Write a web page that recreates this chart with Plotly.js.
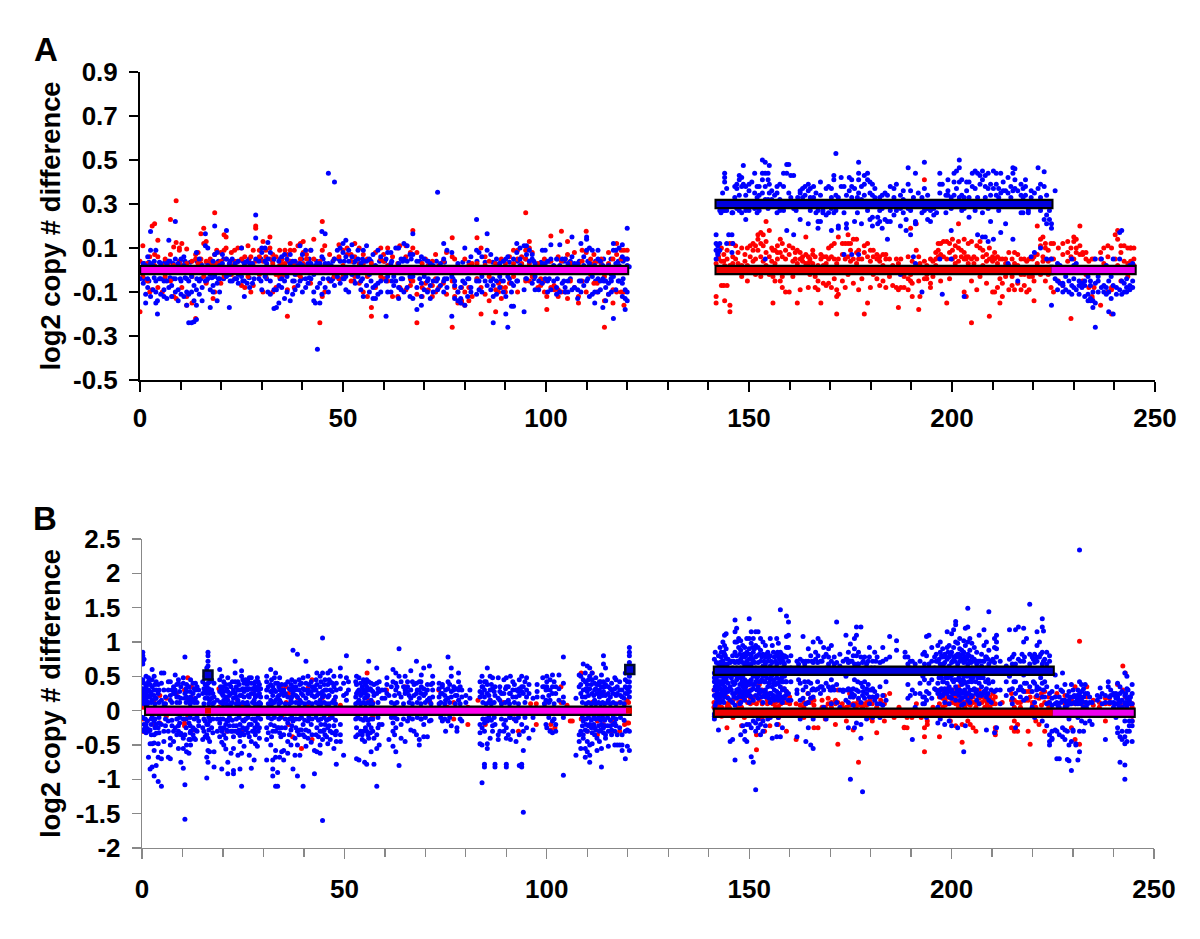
<!DOCTYPE html>
<html><head><meta charset="utf-8">
<script src="https://cdn.plot.ly/plotly-3.0.1.min.js"></script>
<style>html,body{margin:0;padding:0;background:#fff}</style></head>
<body><div id="chart" style="width:1200px;height:939px"></div>
<script>
// Rows are [x, y, y, ...]: points, grouped by x position.
const aBlueLeft=[[0,-.04],[.8,.03,-.06],[1.4,.02,-.15,-.11],[1.9,.06,-.04,-.08],[2.6,.175,.09,.03,-.12],[3.2,.02,-.09],[3.9,.09,-.05,-.1,-.15],[4.3,.01,-.2,-.14],[5.1,.03,-.04,-.11],[5.9,-.09,-.12,-.05],[6.6,.03,-.05,-.13],[7.1,.135,.04,-.08],[7.8,-.07,-.12],[8.7,.22,.05,-.1,-.04],[9.4,-.14,.03,-.09],[10.1,.05,-.05,-.11],[10.8,.06,.02,-.12],[11.5,-.04,-.1,-.16],[12,-.24,-.05,-.11],[12.7,-.24,-.03,-.1],[13.3,-.235,-.14,-.07],[13.9,-.225,-.16,.08,-.09],[14.6,.05,-.05,-.11],[15.3,.02,-.08,-.14],[16.1,.165,.11,-.05],[16.7,.1,.02,-.04],[17.3,-.17,-.09,-.02],[18,-.07,.04,-.1],[18.4,.2,.07,-.03],[19,.08,-.06,-.14],[19.6,.02,-.1,-.04],[20.3,.07,.03],[21.3,.18,.05,-.03],[22,.03,-.02,-.17],[22.7,-.05,.05],[23.4,-.04,.03],[24.2,.04,-.02,-.06],[25,.1,-.03],[25.7,.03,-.12,-.05],[26.4,.04,-.06],[27,-.08,.03],[27.7,.03,-.06],[28.5,.25,.145,.05],[29.3,.04,-.04],[30,.08,.1,-.09],[30.8,.1,.04,-.03],[31.5,.125,.05,-.1],[32.1,.08,-.11,-.05],[33,.05,-.175,-.09],[33.6,-.17,-.09,.01],[34.2,-.15,.04,-.07],[34.9,.06,-.08,-.04],[35.6,.07,-.13,-.05],[36.2,-.03,.05,-.1],[37,.07,.03,-.14],[37.6,.04,-.05,-.11],[38.2,.04,-.09,-.02],[38.9,.02,-.07],[39.4,.11,.03,-.05],[40,.07,.02,-.1],[40.8,.09,-.04,-.08],[41.4,.03,-.06],[42.1,.09,.03,-.04],[42.8,-.14,-.02,-.1],[43.2,.02,-.15],[43.7,-.36,-.08,.03],[44.3,-.15,.03,-.06],[44.8,.175,.06,-.11],[45.6,.165,.03,-.08],[46.4,.44,.03,-.1,-.04],[47.1,.02,-.05],[47.9,.4,.05,-.07],[48.6,.09,-.03],[49.3,.04,-.06,.1],[50,.08,-.04,.12],[50.7,.135,.06,-.09,-.03],[51.4,.09,-.1,.04],[52.2,.115,.06,-.02],[53,.04,-.06,.01],[53.7,.05,-.03,.09],[54.4,.03,-.09,-.05],[55,.04,-.12,.09],[55.8,.11,.04,-.07],[56.5,.05,-.1,-.02],[57.4,.07,-.08,-.13],[58,.02,-.13,-.07],[58.6,-.06,-.11,.09],[59.3,.06,-.05,-.1],[60.6,-.21,-.05,.05],[61,.08,-.1,-.03],[61.8,.08,.03,-.1],[62.5,-.07,-.03],[63,.1,-.05],[63.7,.1,.03,-.08,-.13],[64.3,.05,-.04,-.09],[65,.12,.05,-.1],[65.8,.11,.04,-.08],[66.5,.07,-.12,-.03],[67.2,.165,.07,-.03,-.13],[68.2,-.18,.04,-.08],[69.3,-.16,.06,-.06,-.12],[70,.05,-.09,-.03],[70.8,.04,-.1,-.05],[71.5,.03,-.07,-.13],[72.2,-.05,-.1,.02],[73.3,.353,-.04,-.09],[74,.03,-.07],[74.8,.12,.05,-.05,-.1],[75.6,.09,-.04,-.08],[76.8,-.21,.08,-.03],[77.5,-.07,-.13,-.05],[78.3,.03,-.1,-.14],[79,-.08,-.13,-.15],[80,.1,-.06,-.16],[80.7,-.04,-.12],[81.5,.06,-.08,-.1],[82.9,.23,.09,-.05,-.11],[83.5,.08,-.05,-.09],[84.2,.06,-.03,-.1],[85.5,.165,.09,-.07],[86.4,.07,-.09,-.05],[87,-.24,-.07,-.12],[87.8,.05,-.11,-.05],[88.6,.03,-.08,-.03],[89.5,-.1,-.05,.04],[90.1,-.2,-.12,.05],[90.6,-.26,-.03,.06],[91.5,-.165,-.06,-.1],[92,-.165,.05,-.07],[92.8,.12,.08,-.05],[93.6,.1,.05,.02],[94.6,-.19,.11,-.09],[95.2,.11,.07,-.04],[95.9,.09,.04],[96.6,.05,.07,-.06],[97.3,.03,-.03,-.09],[98.2,-.05,-.09],[99.1,.09,.03,-.06],[99.8,.09,.03,-.04],[100.4,-.1,-.05,.04],[101.2,.115,.05,-.09],[101.9,-.05,.02],[102.6,.05,-.08,-.11],[103.4,.115,.02,-.1],[104,.05,-.06],[104.7,.05,-.08,-.1],[105.4,.03,-.1,-.05],[106.4,.15,.06,-.09],[107,-.08,.03],[107.8,-.09,-.13,.03],[108.6,.12,-.1,-.05],[109.3,.06,.02,-.07],[110,.15,.14,.09,-.05],[110.7,.1,.03,-.12],[111.4,.09,-.11,-.03],[112,-.15,.02,-.1],[112.8,.09,.05,-.04,-.1],[113.4,.04,-.05,-.09],[114,-.17,.02,-.04],[114.7,-.05,-.14,-.08],[115.4,.02,-.06,-.11],[116.1,-.05,-.1,-.02],[116.6,-.22,.12,.09,-.03],[117.2,.09,-.09,.03],[118,-.05,.1,.02],[118.8,.115,.06,-.06,-.12],[119.5,-.18,.05,-.09,-.13],[120,.19,.05,.02,-.14,-.1],[120.5,.015]];
const aBlueLeftCore=[[1,.03,-.04],[2.2,.035,-.05],[3.5,.04,-.035],[4.8,-.04,.035],[6.1,.035,-.04],[7.4,-.035,.04],[8.2,-.04,.03],[9.9,.04,-.04],[11.1,-.035,.04],[12.4,.035],[14,.04,-.04],[15,-.04],[16.4,.035,-.05],[17.7,.04,-.035],[19.3,.04,-.04],[20.6,-.04,.05],[22.2,-.05,.04],[23.8,.035,-.04],[25.3,.04,-.05],[26.9,.05,-.035],[28.1,-.04],[29.8,.05,-.05],[31.2,-.04,.03],[32.7,.04],[34.5,-.04,.05],[36.5,.04],[38,-.05,.035],[39.8,-.04,.05],[41.7,-.035,.05],[43.5,.04],[45.1,-.04,.05],[47.5,.04,-.04],[49,-.04,.05],[50.3,.04,-.04],[52.7,-.05,.035],[54.8,-.04,.05],[56.9,-.05,.04],[59,.04],[60.3,.04,-.04],[62,.04,-.05],[64.7,.04,-.04],[66.8,.05,-.05],[68.9,.04,-.04],[71,-.04,.04],[73,.04,-.05],[75,-.04,.035],[77.1,-.04],[79.5,-.05,.035],[81,-.04,.035],[83,-.04,.04],[85,-.05,.035],[86.9,-.04,.035],[88.9,.04,-.05],[91,-.04,.035],[93,.04,-.05],[95,-.04,.05],[97,.04,-.04],[98.8,-.05,.035],[100.8,-.04,.04],[102.8,.05,-.04],[104.4,.04,-.05],[106,-.04,.04],[108.2,.04,-.05],[110.3,-.04,.04],[112.2,-.05,.04],[114.2,-.05,.05],[116,-.04,.05],[117.8,.04,-.05],[119,.04,-.04]];
const aRedLeft=[[0,-.19,.04],[.7,.11,-.03],[1.8,-.05,.03],[2.4,-.1,.06],[3,.2,-.09],[3.6,.21,.07,.02],[4.4,.135,.06,-.08],[5.5,.02,-.1],[6.2,-.03,.05],[7,.04,.03],[7.5,.23,.07,-.05],[8.3,.105,.02,-.12],[8.9,.315,.125,-.13],[9.7,.1,.09,.04],[10.3,.12,-.08,.02],[11.5,.095,-.12,-.16,.03],[12.8,.04,-.15,-.03],[13.7,.05,.07,-.22],[14.3,.03,.08],[15,.165,.05,.03],[15.7,.19,.12,-.03],[16.3,.13,-.06,.04],[17.3,.05,.03,-.02],[18,.035,-.13,.03],[18.4,.26,.07,-.1],[18.9,.09,.03],[19.9,.04,-.06,.08],[20.7,.16,.09,-.03],[21.2,.15,.1,.05],[22.5,.08,.02,-.02],[23.3,.09,-.04,.04],[24.1,.1,.04],[25,.1,-.07,.05],[25.8,.06,-.08,.03],[26.6,.11,.04,-.03],[27.3,.06,.03,-.1],[27.9,.09,.02,-.07],[28.5,.2,.19,.04],[29.4,.09,.06,-.02],[30.3,.13,.04,-.1],[31,.09,.06,-.03],[32,.15,.1,.05],[32.7,.07,-.1,.03],[33.5,.06,-.08,-.02],[34.4,.09,.02,-.03],[35,.05,-.03,.03],[35.7,.09,.03,-.02],[36.3,-.21,.07,-.09],[37,.12,.09,.04],[38,.09,.03,-.08],[38.9,.11,.03,-.02],[39.5,.12,-.03,.05],[40.2,.13,.08,.03],[41,.05,.07,.02],[42,.03,-.06,.09],[42.8,.14,.05],[44.3,-.24,.04],[44.9,.22,.09,-.12],[45.5,.11,.02,-.1],[46.7,.07,-.05],[47.8,.05,-.03],[49,.115,.06,-.04],[50,.09,.02,-.03],[51,.1,.07],[52,.04,-.05,.07],[52.9,.12,.06,-.03],[54,.1,.03,-.06],[55,.07,-.1,.03],[56,.05,-.12,-.03],[57,-.21,-.17,.03],[58,-.08,.08],[59.3,.1,-.03,.05],[60,.04,-.04,.07],[61,.02,.1,-.05],[62.2,-.12,.06],[63.5,.1,-.12,.03],[64,.11,-.08],[65.5,.11,.06,-.09],[66.6,-.07,.08,-.04],[67.2,.18,.1,-.05],[68.2,-.24,-.11,.08],[69.5,.03,-.08,-.12],[70.3,-.06,.05],[71,.02,-.09],[72,.04,-.12,-.07],[72.8,.07,-.1,-.04],[73.6,.02,-.08],[74.7,-.06,.04],[75.5,-.11,.08],[76.9,.147,.06,-.26,-.05],[77.5,.05,-.12,-.08],[78.3,-.1,-.15,.02],[79.2,-.14,-.15,-.08],[80,.05,-.16,-.1],[81,-.08,-.14,.02],[81.8,-.12,.03],[83,.147,.03,-.04],[84,.1,-.2,-.08],[85,.06,-.11,.02],[86,.04,-.14,-.03],[87.6,-.19,-.09,.03],[88.3,.02,-.1,-.06],[89,.05,-.13,-.08],[90,-.08,-.1,.03],[91,.06,-.06],[92,.09,.03,-.03],[93,.09,.05,-.1],[94,.06,.03],[95,.26,.09,.05,-.05],[95.9,.1,.13,.03,-.05],[96.6,.08,-.03],[98,-.08,.03],[98.7,-.04,-.07],[99.6,.05,-.1,-.05],[100.2,-.18,-.12],[101.2,.155,.04,-.08],[102,-.09,-.07],[103,.06,-.12,-.09],[103.8,.176,.04,-.1],[104.8,.05,-.1],[105.3,.13,.07,-.13],[106,.03,-.05],[107,.08,-.08],[108,.03,-.15,-.12],[108.9,.09,.04,-.05],[109.9,.176,.08,-.1],[111,.05,.03,-.02],[111.8,.07,.03,-.06],[112.6,.04,-.06,-.1],[113.6,.03,.05],[114.4,-.26,-.14,-.03],[115.4,.08,.03,-.11],[116.5,.05,-.09,-.15],[117.4,.12,.07,-.1],[118.5,.09,.05,-.1],[119.2,-.16,.09,-.1],[120,.09,.05]];
const aBlueRight=[[141.9,.16,.12,.09,.05],[142.3,.11,.08,.07],[142.8,.12,.09,.27],[143.1,.26,.3],[143.5,.35,.27],[144,.44,.42,.4,.27],[144.5,.12,.37,.27],[145,.16,.29],[145.8,.16,.08,.26],[146,.12,.31,.26],[146.5,.38,.33],[147,.37,.39,.28],[147.6,.41,.43,.34,.27],[148.2,.42,.38,.31,.26],[148.6,.475,.39,.29],[149.2,.38,.34,.23,.27],[150,.39,.36,.3,.27],[150.7,.4,.31],[151.4,.44,.35,.28],[152,.38,.33,.26],[152.5,.38,.34,.3,.27],[153.3,.5,.44,.41,.35,.3],[154,.49,.44,.38,.32,.05],[154.7,.44,.41,.32,.28],[155,.475,.39,.35],[155.6,.36,.32],[156.3,.34,.29],[156.9,.38,.35,.26],[157.6,.39,.32,.27],[158.5,.44,.38,.27],[159.3,.48,.44,.18],[159.8,.48,.35,.31],[160.3,.43,.33],[161,.43,.16,.28],[161.6,.27],[162,.33,.3],[162.6,.36,.35,.23],[163.2,.37,.33,.29],[163.8,.38,.34,.3],[164.6,.39,.36,.21],[165.1,.37,.33,.27],[165.9,.38,.33,.29],[166.5,.35,.31,.26],[167,.27,.22,.19],[167.6,.4,.34,.22],[168.2,.27,.26],[169,.3,.37,.25],[169.6,.38,.31,.26],[170.3,.37,.33,.28,.18],[170.9,.43,.41,.26],[171.4,.53,.34,.27],[172,.33,.29,.2,.19],[172.7,.42,.38,.3],[173.4,.38,.26,.07],[174,.34,.29,.21,.19],[174.7,.42,.36,.31],[175.3,.41,.38,.33,.07],[176,.37,.31,.22],[176.7,.33,.29,.26],[177,.49,.44,.41,.35,.07],[177.7,.38,.32,.21],[178.4,.43,.39,.34,.31],[179.2,.44,.41,.3,.27],[179.8,.4,.35,.23],[180.4,.39,.34,.24,.2],[181,.37,.33,.3],[181.7,.3,.24,.21],[182.2,.33,.27,.22],[182.8,.34,.28,.19],[183.5,.35,.31,.23],[184.1,.34,.29,.14,.22],[184.8,.38,.27,.22],[185.7,.37,.33,.25],[186.3,.39,.31,.27],[187.3,.34,.28,.2,-.02],[188,.32,.36,.26],[188.7,.3,.18,.23],[189.2,.465,.39,.28],[189.8,.36,.27,.16],[190.5,.33,.29,.06],[191,.44,.22,.21,.03],[191.7,.35,.3],[192.6,.33,.29,.26,-.1],[193.2,.49,.37,.27],[194,.34,.28,.23],[194.7,.31,.27,.22],[195.5,.25,.31,.28],[196.2,.31,.26],[197,.44,.39,.35,.05],[197.6,.39,.3,-.11],[198.5,.34,.3,.26],[199,.41,.36,.34],[199.8,.33,.28,.18,.05],[200.5,.44,.4,.34],[201.1,.45,.37,.31],[201.8,.5,.465,.4,.33],[202.4,.41,.34,.27],[203,.33,.28,-.12],[203.6,.4,.36,.31],[204.2,.4,.33,.24],[205,.44,.38,.31],[205.7,.45,.37,.27],[206.3,.44,.33,.16],[206.9,.43,.39,.29],[207.5,.45,.41,.26,.15],[208.2,.43,.38,.33,.15],[208.9,.44,.37,.28,.13],[209.5,.39,.34,.22],[210.2,.45,.37,.14],[210.9,.44,.39,.34],[211.5,.37,.33,.27],[212,.44,.35,.17],[212.6,.4,.36,.3],[213.2,.3,.36,.21],[213.8,.42,.35,.03],[214.5,.38,.33,.29],[215,.465,.44,.36,.14],[215.5,.46,.41,.37],[216.2,.36,.31,-.05],[217,.39,.34,.26],[217.5,.37,.33,.29,.26],[218.1,.41,.38,.34],[218.8,.3,.27,.26],[219.5,.36,.33,.06],[220.3,.35,.31,.08],[221.2,.465,.37,.3],[221.8,.39,.33,.27,.1],[222.7,.447,.38,.23],[223.3,.34,.25,.21,.05],[224,.31,.27,.23,.01],[224.5,.21,.19,.05,-.16],[225.4,.36,-.01,-.04],[226,.03,-.05,-.09],[226.6,.02,-.06],[227.3,-.06,-.1,-.07],[228,-.03,-.09],[228.8,-.05,-.1],[229.5,.05,-.07,-.11],[230,.02,-.04,-.08],[230.6,.03,-.09],[231.3,-.05,-.07,-.11],[232,-.06,-.08],[232.7,-.05,-.07,-.12],[233.5,-.03,-.11,-.14],[234.1,-.05,-.07,-.13,-.14],[234.7,-.1,-.14,-.17],[235.3,.05,-.06,-.15,-.26],[236,-.03,-.1,-.05],[236.8,.05,-.08],[237.4,-.07,-.1],[238,.02,-.08,-.11],[238.6,-.19,-.05,-.1],[239.2,-.03,-.13],[239.7,.05,-.07,-.2],[240.5,-.11,-.08],[241.3,.17,.05,-.09],[241.8,.18,-.11,-.05],[242.4,-.06,-.1],[243,-.04,-.08,-.1],[243.8,.02,-.07,-.09],[244.5,.03,-.05,-.08]];
const aRedRight=[[141.9,-.12,-.15,.03],[142.5,.06,.08,.05],[143.2,-.07,.1,.04],[143.8,.04,-.07,.07],[144,-.14,.02],[144.6,-.07,.05,.09],[145.3,-.19,-.16,.12,.02],[146,.12,.06,.03],[146.7,.11,.05],[147.3,.08,.03],[148.2,.1,.02,-.03],[149,.07,.04],[149.6,.02,.1,-.05],[150.3,.06,.11,.01],[151,.12,.09,.04],[151.6,.11,.05,-.02],[152.2,.16,.14,.09],[152.9,.17,.12,.06,-.03],[153.5,.16,.11,.04],[154.2,.22,.13,.08,.02],[155,.18,.06,-.02],[155.6,.1,.04],[155.9,-.15,-.03,.09],[156.4,.09,-.05,.03],[157,.08,.11,.05],[157.7,.08,.14,-.05],[158.2,.12,.06,-.08,-.03],[159,.09,-.1,.05],[159.9,.07,.11,-.1],[160.8,.1,.04,-.03],[161.4,.08,.05],[161.9,-.15,.03,.09],[162.6,.08,.05,-.09],[163.2,.06,.04],[164,.07,.15,.03],[164.6,.03,-.08,.06],[165,.05,.04,-.02],[165.7,.03,.07,.09],[166.3,-.08,.06,-.03],[167,-.05,-.09,.02],[167.7,.07,.05,-.15],[168.3,.02,-.06,.06],[169,-.07,.03,.06],[169.6,.05,-.06,.1],[170.3,.06,.11,-.08],[171,.05,.12,-.04],[171.6,-.2,-.09,-.12,.03],[172,.15,-.11,.05],[173,.12,.07,-.05],[173.7,-.08,.05,.12],[174.4,.16,.12,-.02,.06],[175,.12,.09,.04],[175.7,.14,.05,-.06],[176.5,.14,.08,.03],[177,-.09,.09,.05],[177.8,.05,-.04],[178.4,.11,.08,-.2],[179.2,.12,.06,-.15],[179.9,-.08,.04,.09],[180.6,.09,.06,-.02],[181.5,.07,.05,-.04],[182.2,.06,-.07,.04],[183,.07,-.05,.02],[183.7,.07,-.08,.05],[184.6,.05,-.03],[185.4,.02,-.07],[186.3,-.08,.05],[186.8,-.17,-.09,.03],[187.4,-.08,.05],[188.2,-.08,-.03],[189.2,.06,-.09,-.04],[189.8,.19,-.02,-.05],[190.2,.04,-.12,-.06],[191.2,.21,.09,.02],[191.8,.06,-.05,-.18],[192.1,.03,-.12],[193.2,.41,.04,-.04,.01],[193.8,-.04,.02,-.02],[194.7,.05,-.08,-.06],[195.3,.04,-.03],[196,.08,.02,.05],[196.6,.09,.06,.12],[197.2,.12,.07,-.05],[197.9,.13,.06,.01],[198.7,.13,.05,-.15],[199.4,.12,-.04,.08],[200.1,.14,.09,.05],[200.8,.11,.06,.03],[201.6,.13,.1,.04,.21],[202.3,.09,.06],[203,.14,.08,.05,-.1],[203.5,.05,.06,-.12],[204,.12,.06,.03],[204.8,.13,.05,-.24,-.05],[205.4,.06,.03],[206.1,.05,.11,-.09],[206.9,.13,.1,-.03],[207.6,.09,.06,.02],[208.5,.07,.04,-.06],[209.2,.1,.05,-.21],[210,.06,.04,-.1],[210.5,.05,.08,-.1],[211.2,-.08,.03,.06],[211.8,-.15,-.04,.05],[212.4,.05,-.06,-.12],[213.2,.03,.05,-.03],[214,.08,.02,-.09],[214.8,.05,-.03,-.07],[215.4,.03,.08,-.09],[216.2,.07,-.06,.02],[217,-.09,-.02,.05],[217.8,.05,-.07,-.02],[218.4,.04,-.1],[219,-.09,-.03,.05],[219.8,.05,.01,-.03],[220.2,.06,-.14,-.05],[221,.2,.07,.03],[221.8,.14,.11,-.02],[222.4,.15,.06,.04],[223,.1,.12,-.05],[223.7,.09,.04,-.02],[224.4,.12,.05,-.08],[225,.12,-.1,.05],[226.2,.1,-.05],[227.3,.12,.07,-.07],[228.5,.13,.08,.04],[229.3,.1,.06,-.22],[230,.15,.13,.05],[230.6,.14,.1,.08],[231.5,.2,.11,.07],[232.2,.08,.07,-.05],[233,.08,-.02,.05],[233.7,.04,-.08],[234.5,-.12,-.13,.05],[235,.05,-.08],[236.6,.08,.05,-.16],[237.4,.1,.03],[238.4,.11,.06,-.1],[239.3,.1,-.08,-.2,-.09],[240.2,.16,.05],[240.8,.18,.14,.02],[241.6,.11,.08,-.05],[242.4,.11,.04],[243.3,.1,.03,-.03],[244,.1,.1,.04],[244.8,.1,.05,.02]];
const bBlueLeft=[[.2,.85,.8,.72,.68,.45,.32,.28,.15,-.1,-.28],[.5,.75,.4,.25,.2,.1,-.2,-.3],[1,.5,.35,.3,.25,.15,-.2,-.32],[1.6,.48,.42,.3,.2,.12,-.3,-.68],[2,.38,.28,.2,-.28,-.48,-.85],[2.5,.6,.45,.35,.15,-.1,-.48,-.82],[3,.5,.3,.22,-.15,-.35,-.47,-.58,-.95],[3.5,.42,.3,.18,-.2,-.33,-.8],[4,.38,.25,-.25,-.48,-.68,-1.03],[4.8,.55,.4,.15,-.2,-.6,-.7,-1.1],[5.4,.55,.3,.1,-.3,-.45],[6.5,.42,.3,-.15,-.3,-.68],[7,.42,.22,.15,-.4,-.5,-.7],[7.8,.35,.25,-.3,-.45],[8.2,.52,.3,.25,-.25],[9,.45,.4,.2,-.22,-.3,-.55],[9.6,.35,.18,-.33,-.35,-.75],[10.2,.48,.4,-.12,-.4,-.84,-.55],[10.6,.78,.25,.18,-.35,-1.08,-1.58],[11,.38,.28,.2,-.5,-.6],[11.6,.35,.15,-.18,-.42,-.62],[12,.45,.2,-.3,-.5,-.42],[12.6,.25,.4,.15,-.25,-.35],[13.2,.4,.3,.18,-.28,-.42],[14,.3,.22,-.15,-.22],[15,.42,.25,-.25,-.42],[15.6,.5,.38,.28,.18,-.15,-.38],[16,.62,.48,.35,.25,-.2,-.35,-.68,-.98],[16.3,.85,.8,.72,.65,.56,.4,.3,.18,-.2,-.4,-.58,-.75],[16.7,.52,.42,.25,.15,-.15,-.45,-.6],[17.2,.45,.3,.18,-.25],[17.8,.4,.2,.12,-.6,-.82],[18.6,.15,-.3,-.12],[19.2,.6,.45,.28,-.18,-.38],[19.7,.5,.32,.25,-.3,-.46,-.85],[20.2,.42,.28,.15,-.25,-.5,-.35],[20.7,.38,.2,-.2,-.4,-.56],[21.2,.48,.28,.15,-.15,-.3,-.75,-.92],[22,.35,.25,.1,-.3,-.62],[22.6,.3,.18,-.22,-.38,-.55,-.87,-.92],[23,.72,.55,.42,.25,-.3],[23.7,.42,.3,.15,-.32,-.65],[24.2,.3,.22,-.2,-.36,-.45,-.85],[24.6,.58,.5,.22,-.32,-.62,-1.1],[25.2,.4,.28,.2,-.15,-.35,-.52],[26,.38,.3,.12,-.25],[26.5,.48,.32,.2,-.2,-.38,-.65],[27,.48,.4,.25,-.2,-.45,-.84],[27.7,.4,.25,.15,-.3,-.72],[28,.42,.3,.2,-.15,-.35,-.48],[28.5,.48,.35,.22,-.2,-.52],[29,.38,.25,.12,-.25,-.4],[30.8,.5,.42,.3,.2,-.25,-.42,-.72],[31.8,.6,.38,.28,.15,-.2,-.5],[32.3,.35,.22,-.3,-.72,-.85,-.95],[33,.55,.4,.28,.15,-.3,-.58,-.68,-1.1],[33.5,.4,.2,-.25,-.9,-1.1],[34,.48,.3,.15,-.68,-.32],[34.5,.38,.25,-.25,-.6],[35,.3,.22,-.35,-.58,-.72],[36,.42,.2,-.18,-.45,-.62],[36.8,.38,.3,.15,-.28,-.5],[37.3,.88,.35,.25,-.15,-.85],[37.8,.42,.3,-.4,-.65],[38.4,.82,.2,-.3,-.5,-.95],[39,.38,.15,-.28,-.65],[39.8,.48,.32,.22,-.2,-.35,-1.1],[40.5,.72,.4,.18,-.28,-.52],[41,.5,.3,.25,-.15,-.4],[41.8,.42,.28,-.2,-.46],[42.6,.3,.2,.35,-.58,-.92],[43.2,.55,.38,.22,-.25,-.6],[44,.5,.35,.15,-.3,-.5,-.62],[44.6,1.06,.55,.28,.2,-.3,-.42,-1.6],[45.2,.45,.3,-.2,-.35],[45.9,.55,.38,.2,-.25,-.48],[46.5,.58,.42,.3,-.3,-.42],[47.4,.5,.35,.15,-.22,-.55],[48,.4,.3,-.3,-.45,-.78],[49,.62,.5,.32,-.2,-.35,-.45],[49.8,.4,.22,-.65],[50.5,.8,.48,.25,.15],[51,.3,.42],[53,.5,.38,.25,-.25,-.7],[53.6,.48,.3,.15,-.72],[54.4,.35,.25,-.35,-.42],[55,.42,.3,.18,-.45,-.75],[55.5,.45,.35,.2,-.3,-.78],[56,.72,.42,.3,-.2,-.4],[56.6,.4,.3,.15,-.25,-.6],[57.3,.38,.22,-.4,-.78],[58,.62,.4,.25,-.35,-1.1,-.55],[58.6,.42,.28,-.2,-.5],[59.3,.3,.18,-.2],[60,.3,.18],[60.5,.38,.48,.25],[61,.22,-.42],[62,.6,.42,-.18,-.3,-.52],[62.7,.55,.4,.3,-.25,-.6],[63.5,.9,.5,.25,-.8],[64,.42,.2,-.2,-.4],[65,.3,.5,.25,-.45],[65.6,.42,.35,.28,-.15],[66.4,.58,.3,.18,-.28],[67.2,.38,.22,-.3],[67.8,.72,.4,.25,-.35],[68.5,.42,.3,.18,-.42,-.5],[69,.52,.35,.25,-.12],[69.6,.62,.32,.22,-.2,-.38],[70.5,.38,.3,.15,-.38],[71,.65,.18,.15,-.15],[71.8,.5,.4,.3,.2],[73.4,.4,.32,.2,.1],[74.2,.35,.38,.25,-.15],[75,.3,.15,-.3],[75.6,.78,.42,.32,.18,-.15],[76.4,.62,.5,.28,.2,-.22],[77,.35,.3],[77.8,.32,.22,-.25,-.3],[78.2,.55,.42,.3,.15],[79,.3,.2,-.15],[80,.22,.12],[81,.3,.18],[83.5,.42,.28,.2,-.2,-.32,-.48],[84,.5,.35,.25,-.25,-.5,-1.05],[84.6,.42,.3,.2,-.18,-.3,-.82,-.78],[85.3,.62,.38,.25,-.15,-.48,-.55],[86,.5,.3,.15,-.4],[86.6,.48,.32,-.22,-.3],[87.2,.35,.22,-.2,-.82,-.78],[88,.48,.18,-.35,-.42],[88.4,.35,.28,.15,-.3],[89.4,.45,.25,-.2,-.3],[90,.48,.35,-.25,-.4,-.82,-.78],[90.5,.35,.15,-.35],[91,.5,.25,-.1,-.42],[91.6,.42,.3,.2,-.3],[92.4,.3,.2,-.15,-.45],[93.2,.45,.32,.22,-.35,-.8],[93.8,.35,.5,.28,-.2,-.78,-.82],[94.2,.35,.25,-.3,-.58,-1.48],[95,.48,.3,.2,-.25],[95.6,.25,.38,-.4],[96.6,.18,-.1,-.28],[97.6,.38,.28,.2],[99,.48,.35,.2],[99.8,.3,.15,-.2],[100,.5,.42,.35,-.25],[100.8,.45,.3,.15,-.3],[101.4,.52,.35,.25,-.15,-.32],[102.2,.35,.25,-.3,-.2],[103,.52,.32,.15],[104.1,.78,.4,.2,.12,-.1,-.94],[107.2,.18,-.65],[108,.52,.35,-.35,-.45],[108.4,.5,.38,.25,-.3,-.55],[109,.68,.45,.3,-.15,-.35,-.4],[109.5,.55,.42,.2,-.28,-.55,-.68],[110,.65,.38,.28,-.3,-.45,-.6],[110.6,.62,.5,.32,-.2,-.5,-.65,-.75],[111.2,.55,.45,.25,-.32,-.48],[111.8,.4,.3,.15,-.25,-.35],[112.4,.38,.25,-.4,-.58],[113,.42,.3,.2,-.3,-.45],[113.5,.52,.35,.25,-.2,-.55,-.82],[114,.8,.68,.42,.28,-.25,-.32],[114.5,.62,.38,.22,-.35,-.4],[115.2,.35,.25,.15,-.3,-.52],[116,.4,.3,-.28,-.35],[116.8,.48,.32,-.18,-.3,-.5],[117.4,.35,.25,-.35,-.5],[118,.3,.42,-.25,-.5],[118.6,.3,.2,-.35,-.5,-.58],[119.4,.55,.45,.35,.25,-.3,-.7],[119.9,.42,.32,.25,-.28,-.52],[120.4,.92,.85,.8,.7,.58,.5,.42,.35,.28,.2,-.3,-.58]];
const bBlueLeftCore=[[.8,.1,.18,-.12,-.25],[1.3,.1,.22,.38,-.15,-.26],[2.3,.12,.25,-.12,-.2,-.35],[3.2,.1,.18,.38,-.12,-.25],[4.2,.12,.3,-.1,-.18,-.32],[5.8,.1,.2,-.12,-.22],[7.4,.12,.3,-.14,-.22],[8.6,.12,.2,.38,-.12,-.35],[9.3,.12,.28,-.1,-.18],[10.9,.12,.32,-.12,-.25],[11.9,.1,.28,-.1,-.22,-.32],[12.9,.12,.32,-.12,-.4],[13.6,.12,.35,-.1,-.3],[15.3,.1,.32,-.12,-.3],[16.5,.1,.32,-.1,-.28],[17.5,.1,.25,-.12,-.32],[19.4,.12,.35,-.12,-.25],[20,.1,.22,.35,-.12],[20.9,.1,.32,-.14,-.28],[21.6,.08,.22,.38,-.1,-.22],[22.3,.12,.42,-.14,-.3],[23.3,.1,.2,.35,-.12,-.22],[24,.1,.38,-.1,-.28],[24.9,.12,.32,.45,-.14,-.25],[25.6,.1,.32,.45,-.12,-.28],[26.2,.08,.22,.42,-.1,-.32],[27.3,.12,.32,-.12,-.3],[27.9,.1,.35,-.12,-.25],[28.7,.1,.3,.42,-.1,-.3],[29.3,.1,.2,.32,-.12],[31.2,.1,.35,-.1,-.32],[32,.1,.28,.45,-.12,-.38],[32.7,.12,.3,.48,-.1,-.22],[33.8,.1,.22,.35,-.12,-.25],[34.3,.12,.3,-.1,-.38],[35.4,.1,.25,.38,-.12,-.25],[36.4,.1,.32,-.12,-.35],[37,.12,.2,.45,-.1,-.22],[38,.12,.22,.35,-.12,-.25],[38.8,.1,.3,.45,-.12,-.35],[39.4,.12,.25,.4,-.1,-.28],[40.2,.1,.3,-.14,-.38],[41.2,.12,.38,-.1,-.3],[42,.1,.22,.35,-.12,-.35],[43,.12,.3,.45,-.1,-.35],[43.6,.1,.25,-.14,-.38],[44.2,.1,.25,.42,-.12,-.2],[45,.12,.22,.38,-.1,-.28],[45.6,.1,.3,-.14,-.38],[46.2,.1,.22,.45,-.12,-.22],[47,.12,.28,.4,-.1,-.32],[47.8,.1,.2,-.14,-.35],[52.8,.1,.2,.42,-.12,-.38],[53.3,.12,.28,-.1,-.35],[54,.1,.22,.4,-.12,-.3],[54.7,.12,.3,.45,-.14,-.3],[55.2,.1,.25,.38,-.1,-.25],[55.8,.12,.22,-.14,-.35],[56.4,.1,.32,-.12,-.32],[57,.1,.28,-.12,-.3],[58.3,.12,.32,-.1,-.25],[61.6,.12,.35,-.1],[62.4,.1,.22,-.1,-.35],[63,.12,.35,-.12],[64.6,.1,.35,-.12],[66,.12,.22,-.1],[66.8,.1,.42,-.12],[68,.12,.3,-.1],[68.9,.1,.42,-.12],[70,.12,.25,-.1],[71.4,.1,.38,-.14],[73.8,.12,.25,-.1],[74.8,.1,.22,-.12],[76,.12,.38,-.1],[77.4,.1,.22],[78.6,.1,.35,-.12],[84.2,.12,.35,-.12],[85,.1,.42,-.12],[85.7,.12,.22,-.1],[86.3,.1,.38,-.14],[87,.12,.28,-.1],[88.8,.1,.25,-.12],[89.8,.12,.32,-.14],[90.8,.1,.25,-.1],[92,.12,.38,-.12],[93,.1,.28,-.1],[94.6,.12,.42,-.1],[99.4,.1,.35],[100.5,.12,.22,-.1],[101.8,.1,.42,-.12],[108.8,.12,.2,-.1,-.22],[109.7,.1,.32,-.12,-.2],[110.3,.12,.22,.45,-.1,-.22],[111,.1,.38,-.14,-.25],[111.6,.12,.22,-.1,-.2],[112.1,.1,.32,.48,-.12,-.28],[112.8,.12,.25,.38,-.1,-.22],[113.3,.1,.42,-.14,-.28],[113.8,.12,.35,.22,-.1,-.22],[114.3,.1,.35,-.14,-.22],[115,.12,.45,-.1,-.22],[115.7,.1,.2,.32,-.14,-.22],[116.4,.12,.25,-.1,-.2],[117.1,.1,.22,.45,-.12,-.22],[118.2,.12,.22,-.1],[119.1,.1,.18,-.14]];
const bRedLeft=[[.3,.2,.05,-.12,-.3],[1.3,-.15,.12],[3,.15,-.2],[4.4,.22,-.18],[6,.18,-.08],[8.5,.25,.02],[10.5,.3,-.18,-.22],[11.3,.48,-.1],[12.2,.35,.2],[13,-.28,.15],[16.2,.03,-.02],[16.7,.02,-.04],[19,.32,.05],[21,.18,-.3],[23.6,.15,-.3],[24.8,.1,-.3],[27.5,.25],[32,.1],[34.5,.36,-.08],[35.6,.35,.12],[36.2,.25,-.2],[37.2,-.38],[38.5,.18],[39.4,-.55],[41,.33,.1],[42,.45,-.42],[44.5,.18],[46.5,-.1],[47.5,.15],[49,.08],[54,.25,.1],[55.6,.55,.18,.3],[57,.12,-.08],[60.4,.3],[65,.35],[71.2,.12],[73.3,.3],[75.4,.05],[77,.12,-.12],[80.5,.05,-.2],[83,.15],[84.8,-.2],[86,.15],[89.3,.12],[92,-.12],[93,-.3],[94.3,-.05],[96,.1],[97.4,.1,-.2],[99.5,.1],[101,-.2,-.28],[102,-.25],[103.5,.35,.12],[105,.08],[105.8,-.15],[106.3,-.15],[108.5,.55,-.12],[110,-.3],[111.2,.55,.12],[112.5,-.15,-.35],[114,.25,-.2],[116,-.15,-.3],[118,.12,-.3],[119.2,.1,-.2],[119.8,.15,-.18],[120.2,.12,.03,-.02,-.18]];
const bBlueRight=[[141.4,.75,.55,.48,.42,.3,.22,-.05,-.08,-.12],[141.9,.7,.62,.45,.38,.3,.18,.12],[142.4,.8,.55,.5,.35,.25,.15,-.28],[142.8,.92,.7,.6,.42,.32,.2,.12],[143.1,.85,.78,.65,.5,.38,.25],[143.5,1,.72,.55,.4,.3,.22,.14],[143.9,1.1,.95,.82,.68,.5,.35,.2],[144.3,1.12,.9,.76,.6,.45,.32],[144.8,.75,.6,.4,.28,.18],[145.3,.7,.55,.35,.15,-.45],[145.9,.8,.62,.42,.25,.12,-.42],[146.5,1.32,1.15,1,.85,.7,.52,.4,.25,.08,-.72],[146.9,1.2,1,.8,.62,.45,.3,.18],[147.4,1.05,.92,.7,.55,.32,.2],[147.9,1.02,.88,.75,.62,.48,.28,.12,-.35],[148.4,.95,.8,.7,.5,.35,.2,-.22],[148.9,.92,.78,.66,.45,.3,.15,-.3,-.42],[149.4,1.05,.85,.72,.55,.4,.22,-.2,-.45],[150,1.34,1.05,.9,.75,.62,.38,.28,.12,-.2],[150.5,1.15,.98,.8,.68,.45,.3,.2,-.25,-.67],[151,1.05,.85,.72,.5,.32,.15,-.15,-.75],[151.6,1.15,.95,.78,.62,.42,.22,-.18,-.3,-1.15],[152.2,1.15,.92,.7,.5,.35,.18,-.12,-.25],[152.8,1.05,.88,.72,.6,.42,.3,-.2,-.35],[153.4,1,.82,.65,.5,.28,.12,-.15,-.3],[154,.95,.78,.68,.42,.3,.2,-.22],[154.6,.85,.72,.55,.35,.2,-.12],[155.2,1.05,.8,.65,.45,.25,.12,-.1],[155.7,.95,.7,.52,.35,.18,-.4],[156.2,.78,.62,.45,.3,.15],[156.8,1.05,.82,.68,.48,.28,-.2,-.38],[157.2,.98,.78,.6,.4,.25,.15,-.1],[157.7,1.47,.85,.7,.55,.35,.2,-.38],[158.2,.78,.62,.42,.3,.12,-.25],[158.7,.8,.68,.5,.32,.18],[159.2,1.38,1.08,.92,.78,.6,.42,.28],[159.7,1.29,1.1,.92,.72,.55,.25,.15],[160.3,.8,.62,.42,.15],[161.8,.72,.62,.3,.25,-.38],[162.6,.75,.55,.4,.15,-.12],[163.3,1.08,.72,.3,.18],[164,.72,.62,.35,.1,-.45],[164.6,.9,.72,.42,.25,.12,-.25],[165.2,.8,.58,.4,.18,-.5],[165.8,1,.7,.32,.2,-.12,-.55],[166.4,.85,.75,.55,.3],[167,1.05,.8,.6,.32,-.05,-.05],[167.6,1,.72,.35,.25],[168.4,.92,.78,.3,.05],[169,.62,.82,.4,-.12],[169.6,.9,.78,.68,.35],[170.3,.95,.72,.45,.3,.1],[171,.78,.68,.55,.3],[171.6,1.29,.7,.38,.12],[172.4,.65,.82,.3,.05],[173.2,.72,.6,.28,.3],[173.9,1.1,.75,.5,.15],[174.5,.85,.7,.32,.12,-.25],[175,.97,.72,.3,.2,-1],[175.7,.8,.6,.32,.2,.08],[176,1.05,.9,.68,.45,.22,-.25],[176.5,1.22,1.1,.8,.6,.3,-.18],[177,.85,.68,.28,.18],[177.6,1.22,.78,.6,.4,.12,-.4,-.2],[178,.7,.55,.35,.22,-1.18],[178.5,.78,.62,.42,.18],[179,.68,.32,.25,-.12],[179.7,.92,.78,.3,.2,.1],[180.5,.72,.6,.32,.2,-.1],[181,.85,.62,.28,.15],[181.6,.78,.55,.22,.1],[182.3,.7,.35,.1,-.1],[183,.92,.72,.55,.22,.08],[183.8,.75,.42,.15],[184.7,1.08,.78],[186.4,1.02,.88],[188.5,.85,.78],[189.2,.78,.68,.38,.18,-.05],[189.8,.72,.62,.22],[190.3,.72,.55,.3,-.42],[191,.68,.25,.05],[192.2,.58,.72,.4,.25],[192.9,.5,.82,.2,.1],[193.3,.85,.68,.45,.2,.1],[193.8,1.08,.8,.6,.28,.15,-.1],[194.4,1.1,.68,.4,.25],[195.1,.92,.72,.45,.18],[195.8,.78,.62,.32],[196.6,.95,.72,.55,.4,.25,.05,-.18],[197.2,1,.85,.68,.3,.2,-.12],[197.8,.9,.78,.6,.42,.22],[198.3,.82,.7,.55,.32,.12,-.2],[198.9,1.15,.92,.75,.6,.4,.25],[199.4,.95,.78,.65,.35,.2,.1,-.15],[200,1.12,.85,.7,.52,.3,.18,-.22],[200.5,1.18,.92,.78,.6,.42,.25],[201,1.3,1.25,1,.8,.62,.35,.15],[201.5,.98,.82,.68,.45,.25,-.25],[202,1.05,.9,.72,.55,.3,.15],[202.5,.88,.75,.6,.38,.18,.08],[203,1.02,.85,.7,.5,.28,.1,-.6],[203.4,1.2,.95,.78,.62,.4,.2,-.22],[204,1.49,1.22,1,.82,.68,.35,.15],[204.5,1.05,.88,.72,.55,.3,.12],[205,.98,.78,.62,.42,.22],[205.6,.92,.75,.58,.32],[206.2,.85,.68,.52,.3,.15],[206.8,1.1,.72,.62,.4,.1],[207.4,.82,.65,.35,.22],[208,1.18,.95,.72,.55,.28],[208.6,1,.78,.62,.32,.2,-.28],[209.2,1.44,.88,.68,.4,.15],[209.8,.72,.55,.3,.12],[210.6,1.05,.92,.7,.55,.28,-.32],[211.1,1.1,1,.9,.78,.62,.3,-.25],[212,.72,.55,.3,.1],[213.5,.65,.42,.22],[214.3,1.18,.75,.5,.3],[215,.78,.68,.32,.18,.1],[215.8,1.18,.68,.42,.25,-.25],[216.5,1.22,.75,.6,.3],[217,.72,.35,.2],[217.8,1.2,1,.72,.52,.28,.15],[218.5,1.05,.62,.4,.18],[219.3,1.55,.82,.68,.35,-.02],[219.9,.78,.55,.28,.05],[220.5,.82,.7,.4,.12,-.1],[221.1,1.15,.95,.72,.35,.22],[221.7,1,.78,.6,.32],[222.4,1.34,1.22,.85,.68,.4,.2,-.15],[222.7,1.16,.72,.62,.3],[223.5,.85,.68,.35,.1,-.22],[224.2,.8,.72,.25,.12,-.35,-.45,-.5],[224.8,.28,.18,.08,-.3,-.42,-.4],[225.6,.52,.2,.1,-.28],[226,.35,.12,-.3,-.7],[226.6,.2,.05,-.35,-.7],[227.4,.55,.28,.15,-.25,-.38],[228,.38,.15,.05,-.28,-.42],[228.6,.22,.08,-.3,-.71],[229,.28,.15,-.12,-.5,-.73],[229.6,.38,.1,-.45,-.87],[230,.3,.2,-.28,-.3],[230.7,.2,.1,-.5,-.48],[231.2,.3,.18,.1,-.1,-.72],[231.6,2.34,.42,.25,.12,-.6,-.3],[232.1,.38,.28,.15,-.15],[232.6,.32,.2,.05,-.3],[233,.38,.25,.12,-.18],[233.6,.25,.1,-.05],[234.1,.2,.12,-.15],[234.7,.12,-.2],[236,.22,.15],[236.7,.33,.2],[237.2,.25,.1],[238,.22,.12,-.42],[238.7,.42,.35],[239.3,.3,.22,.12],[240,.25,.12,.05],[240.6,.25,.18,-.1],[241,.4,.2,.1,-.25,-.32],[241.6,.35,.25,.12,-.38,-.75],[242.1,.28,.15,.05,-.3,-.42],[242.8,.55,.22,.1,-.15,-.38,-.48,-.79,-1],[243.3,.5,.32,.18,.05,-.3,-.45],[243.9,.2,.15,-.15,-.22,-.3],[244.6,.38,.25,.1,-.15,-.22,-.45]];
const bBlueRightCore=[[141.6,.85,.35,.08,.02],[142.1,.62,.3,.25],[142.6,.68,.42,.2],[143.3,.72,.42,.3],[143.7,.85,.45,.3,.12],[144.1,.8,.42,.25],[144.6,.68,.5,.3],[145.6,.72,.48,.3],[146.2,.72,.38,.2],[147.1,.72,.48,.28],[147.7,.82,.38,.25,.1],[148.2,.78,.42,.28],[148.7,.82,.4,.25],[149.2,.8,.62,.35],[149.7,.68,.42,.28],[150.2,.82,.42,.22],[150.8,.92,.75,.38],[151.3,.9,.7,.38],[151.9,.8,.48,.3],[152.5,.82,.42,.25],[153.1,.78,.45,.2],[153.7,.72,.42,.22],[154.3,.82,.48,.25],[154.9,.78,.4,.18],[155.4,.72,.48,.25],[156,.85,.4,.22],[156.5,.72,.38,.2],[157,.85,.4,.2],[157.5,.75,.45,.25],[158,.82,.48,.18],[158.4,.72,.42,.2],[159,.78,.42,.22],[162.2,.68,.45],[163.7,.68,.42],[165.5,.72,.3],[166.9,.7,.42],[168,.72,.35],[170,.62,.3],[170.7,.62,.35],[174.2,.75,.3],[175.4,.72,.25],[176.8,.68,.42],[178.2,.72,.28],[179.4,.72,.38],[180.2,.62,.3],[181.3,.72,.2],[196.2,.82,.72,.3],[196.9,.75,.48,.25],[197.5,.8,.48,.32],[198,.68,.42,.25],[198.6,.78,.48,.28],[199.1,.85,.48,.3],[199.7,.82,.5,.28],[200.2,.72,.45,.25],[200.8,.72,.45,.25],[201.3,.78,.55,.3],[201.8,.82,.48,.22],[202.2,.78,.42,.25],[202.8,.82,.45,.25],[203.2,.72,.42,.3],[203.8,.75,.5,.25],[204.3,.8,.42,.25],[204.8,.7,.48,.2],[205.3,.72,.48,.3],[206,.72,.42,.25],[206.5,.72,.48,.22],[207.1,.72,.48,.25],[207.8,.72,.48,.25],[208.4,.78,.42,.25],[209,.75,.45,.25],[210.2,.75,.42],[215.4,.82,.42],[217.4,.82,.3],[218,.78,.4],[220.2,.75,.42],[221,.78,.3],[222,.82,.48],[223,.75,.42,.2],[226.3,.1,.05],[227,.3,.12],[228.3,.12,.05],[229.3,.2,.1],[230.3,.22,.12],[231,.22,.15],[231.9,.2,.1],[233.3,.12,.05],[239,.2,.12],[240.3,.22,.1],[241.3,.15,.05],[243,.25,.12],[243.6,.3,.1],[244.2,.2,.1]];
const bRedRight=[[141.3,.3,.05,.12],[142,.2,.1,-.05],[142.6,.12,.06],[143.2,.15,.05,-.08],[144.5,.2,.1,-.25,.05],[145.1,.12,.05],[146,-.1,.15],[147.4,.25,.12,.05],[148.1,.25,.15,.05,-.22],[148.8,.28,.18,-.1],[149.6,.22,.12,.38],[150.3,.3,.18,.1],[151,.2,.12],[151.8,.42,.2,.1,-.35,-.57],[152.5,.38,.25,.15],[153.2,.3,.1,-.12],[153.8,.42,.22,-.3],[154.5,.15,.1],[155.1,.25,.12,-.22],[155.8,.18,.1],[156.5,.2,.12,.05],[157.2,.15,.06,-.2,-.1],[157.8,.18,.1],[158.5,.62,.32,.12],[159.2,.28,.12,-.3],[160,.2,.1],[161.6,.1,-.42],[162.6,.08],[163.5,.12,.05,-.1],[164.5,.25,.12],[165.2,.18,.12],[166,.15,.08,-.25],[167,-.02,-.25],[168,.15,.05],[168.8,.05,-.12],[169.5,.18,.1],[170.3,.12,.05],[171.3,.15,.1,-.2],[171.9,.3,.12,-.49],[173,.1,.05],[174,.05,-.15],[174.8,.25,.08],[175.7,.2,.1,-.28],[176.3,.1,.05],[177,-.75,.15,.08],[178,.1,.05],[179,.12,.08],[179.8,-.1,.15],[180.4,-.15,.1],[181.5,.2,.05,-.32],[182.5,.15,.1],[183.4,.22,.1,-.15],[184.7,.25],[185.8,-.1],[187,.05],[188.3,-.25,-.24],[189,-.25,-.1],[190.2,-.1],[191.3,.1],[192.5,-.05,-.1],[193.3,-.6,-.25,-.38],[194,-.2,-.15],[195.4,.05],[197,.3,.2,.1,-.38],[197.8,.3,.18,.05],[198.4,.25,.15,.08],[199,.32,.2,.1],[199.7,.3,.18,-.15],[200.2,.2,.12,.3],[201,.2,.1,-.22],[201.7,.35,.25,.1,.05],[202.6,.15,.1,-.46,-.2],[203.3,.28,.12,.05],[204,.2,.1,-.15],[204.6,.15,.08,-.2],[205.3,.2,.12,-.25],[206,.12,.05,-.3],[206.8,.3,.18,.1],[207.5,.2,.12],[208.2,.28,.15,.05],[208.8,.12,.2,.08],[209.5,.2,.15,.05],[210.2,.25,.15,.1],[210.8,.2,.1,-.3,-.35,-.25],[212.5,.12],[214.8,.25,.15,-.25],[215.5,.15,.05,-.15,-.3],[216.3,.12,-.2,-.3],[217,.12,.05],[218.2,.28,.15],[218.9,.28,.15,-.3],[219.4,.28,.2,-.49,-.05],[220,.08,.12],[220.8,.2,.05,-.15],[221.6,.18,-.2],[222.2,.25,.08],[223,.28,.12,-.3],[224,.2,.12,.05],[226,.25,.1],[228,.22,.1],[229.6,.15,-.25],[230.5,.35,.1,-.42],[231.6,1.01,-.49],[232.5,.12,.05],[233.4,.35,.2],[235,.15,.08],[236.5,.12,.05],[238,.18,.1,-.15],[239,.18,.1],[241,.38,.1],[241.7,.1,.05],[242.3,.65,.3,.05],[242.9,.55,.2,.1],[243.8,.15,.1],[244.6,.1,.05,-.15,-.08]];
const lineA=[{x:[.3,120],y:[0,0],c:'#ff00ee'},{x:[142,224.5],y:[.3,.3],c:'#0000dd'},{x:[142,224.5],y:[0,0],c:'#ee0000'},{x:[224.5,245],y:[0,0],c:'#ee00ee'}];
const lineB=[{x:[1,120.5],y:[0,0],c:'#ff00ee'},{x:[141.5,225],y:[.58,.58],c:'#0000dd'},{x:[141.5,225],y:[-.03,-.03],c:'#ee0000'},{x:[225,245],y:[-.03,-.03],c:'#ee00ee'}];
const boxesX=[16.3,120.5], boxesY=[.52,.6];
const redCapX=[16.3,120.3], redCapY=[0,0];
const xTicks=[0,50,100,150,200,250];
const yTicksA=[-.5,-.3,-.1,.1,.3,.5,.7,.9], yTextA=['-0.5','-0.3','-0.1','0.1','0.3','0.5','0.7','0.9'];
const yTicksB=[-2,-1.5,-1,-.5,0,.5,1,1.5,2,2.5], yTextB=['-2','-1.5','-1','-0.5','0','0.5','1','1.5','2','2.5'];
const yLabel='log2 copy # difference';

function flat(rows){const x=[],y=[];rows.forEach(r=>r.slice(1).forEach(v=>{x.push(r[0]);y.push(v);}));return {x,y};}
function dots(rows,color,xa,ya){const p=flat(rows);return {type:'scatter',mode:'markers',x:p.x,y:p.y,xaxis:xa,yaxis:ya,marker:{color,size:5,line:{width:0}},hoverinfo:'skip',showlegend:false};}
function bars(list,xa,ya){const t=[];const pad=.5;
 list.forEach(s=>t.push({type:'scatter',mode:'lines',x:[s.x[0]-pad,s.x[1]+pad],y:s.y,xaxis:xa,yaxis:ya,line:{color:'#000',width:10.5},hoverinfo:'skip',showlegend:false}));
 list.forEach(s=>t.push({type:'scatter',mode:'lines',x:s.x,y:s.y,xaxis:xa,yaxis:ya,line:{color:s.c,width:6},hoverinfo:'skip',showlegend:false}));
 return t;}
const data=[
 dots(aBlueLeftCore,'#0000ff','x','y'),
 dots(aRedLeft,'#ff0000','x','y'),dots(aRedRight,'#ff0000','x','y'),
 dots(aBlueLeft,'#0000ff','x','y'),dots(aBlueRight,'#0000ff','x','y'),
 ...bars(lineA,'x','y'),
 dots(bRedLeft,'#ff0000','x2','y2'),dots(bRedRight,'#ff0000','x2','y2'),
 dots(bBlueLeft,'#0000ff','x2','y2'),dots(bBlueLeftCore,'#0000ff','x2','y2'),dots(bBlueRight,'#0000ff','x2','y2'),dots(bBlueRightCore,'#0000ff','x2','y2'),
 ...bars(lineB,'x2','y2'),
 {type:'scatter',mode:'markers',x:redCapX,y:redCapY,xaxis:'x2',yaxis:'y2',marker:{symbol:'square',size:6,color:'#ee0000'},hoverinfo:'skip',showlegend:false},
 {type:'scatter',mode:'markers',x:boxesX,y:boxesY,xaxis:'x2',yaxis:'y2',marker:{symbol:'square',size:9,color:'#0000dd',line:{color:'#000a2a',width:2.5}},hoverinfo:'skip',showlegend:false}
];
const F='"Liberation Sans",Arial,sans-serif';
function xAxis(col,w,l,r,standoff){return {domain:[l/1200,r/1200],range:[0,250],tickmode:'array',tickvals:xTicks,ticktext:xTicks.map(String),ticks:'outside',ticklen:10,tickwidth:w,tickcolor:col,linecolor:col,linewidth:w,showline:true,showgrid:false,zeroline:false,ticklabelstandoff:standoff,tickfont:{family:F,size:26,color:'#000',weight:700},
 minor:{tickmode:'linear',tick0:0,dtick:10,ticks:'outside',ticklen:8,tickwidth:w,tickcolor:col,showgrid:false}};}
function yAxis(b,t,rng,vals,txt,col,w,standoff,titleGap){return {domain:[1-b/939,1-t/939],range:rng,tickmode:'array',tickvals:vals,ticktext:txt,ticks:'outside',ticklen:9,tickwidth:w,tickcolor:col,linecolor:col,linewidth:w,showline:true,showgrid:false,zeroline:false,ticklabelstandoff:standoff,tickfont:{family:F,size:26,color:'#000',weight:700},
 title:{text:yLabel,font:{family:F,size:27.4,color:'#000',weight:700},standoff:titleGap}};}
const xa=xAxis('#000',2,140,1155,4); xa.anchor='y';
const ya=yAxis(380,72,[-.5,.9],yTicksA,yTextA,'#000',2,6,4); ya.anchor='x';
const xb=xAxis('#888',1.3,142,1154,7); xb.anchor='y2';
const yb=yAxis(848,539,[-2,2.5],yTicksB,yTextB,'#888',1.3,6,7); yb.anchor='x2';
const layout={width:1200,height:939,margin:{l:0,r:0,t:0,b:0},paper_bgcolor:'#fff',plot_bgcolor:'rgba(0,0,0,0)',showlegend:false,
 xaxis:xa,yaxis:ya,xaxis2:xb,yaxis2:yb,
 annotations:[
  {text:'A',xref:'paper',yref:'paper',x:46/1200,y:1-50/939,showarrow:false,xanchor:'center',yanchor:'middle',font:{family:F,size:33,color:'#000',weight:700}},
  {text:'B',xref:'paper',yref:'paper',x:45/1200,y:1-518/939,showarrow:false,xanchor:'center',yanchor:'middle',font:{family:F,size:33,color:'#000',weight:700}}
 ]};
Plotly.newPlot('chart',data,layout,{staticPlot:true,displayModeBar:false});
</script></body></html>
